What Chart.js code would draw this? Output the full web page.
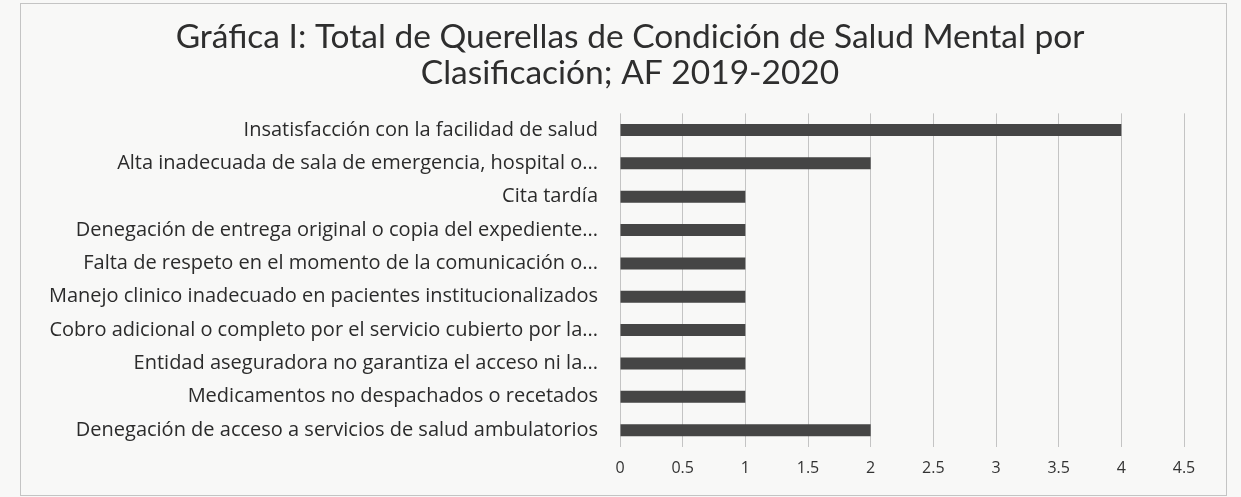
<!DOCTYPE html>
<html>
<head>
<meta charset="utf-8">
<script src="https://cdn.jsdelivr.net/npm/chart.js@4/dist/chart.umd.min.js"></script>
<style>
  html, body { margin: 0; padding: 0; background: #f8f8f7; }
  #wrap { position: relative; width: 1241px; height: 497px; }
  #c { position: absolute; left: 0; top: 0; }
  #frame { position: absolute; left: 20px; top: 3px; width: 1205px; height: 491px; border: 1px solid #c4c4c4; pointer-events: none; }
</style>
</head>
<body>
<div id="wrap">
  <canvas id="c" width="1241" height="497"></canvas>
  <div id="frame"></div>
</div>
<script>
const titleLines = [
  "Gráfica I: Total de Querellas de Condición de Salud Mental por",
  "Clasificación; AF 2019-2020"
];
const categories = [
  "Insatisfacción con la facilidad de salud",
  "Alta inadecuada de sala de emergencia, hospital o...",
  "Cita tardía",
  "Denegación de entrega original o copia del expediente...",
  "Falta de respeto en el momento de la comunicación o...",
  "Manejo clinico inadecuado en pacientes institucionalizados",
  "Cobro adicional o completo por el servicio cubierto por la...",
  "Entidad aseguradora no garantiza el acceso ni la...",
  "Medicamentos no despachados o recetados",
  "Denegación de acceso a servicios de salud ambulatorios"
];
const values = [4, 2, 1, 1, 1, 1, 1, 1, 1, 2];
const xMin = 0, xMax = 4.5, xStep = 0.5;

// let the long category labels extend left of the (shifted) y-axis box without clipping
const unclipLabels = {
  id: 'unclipLabels',
  afterLayout(chart) {
    const y = chart.scales.y;
    y.left = 0;
    y.width = y.right;
  }
};

new Chart(document.getElementById('c'), {
  type: 'bar',
  data: {
    labels: categories,
    datasets: [{
      data: values,
      backgroundColor: '#454545',
      borderWidth: 0,
      barPercentage: 0.36,
      categoryPercentage: 1.0
    }]
  },
  options: {
    indexAxis: 'y',
    responsive: false,
    animation: false,
    devicePixelRatio: 1,
    layout: { padding: { left: 76, right: 57, top: 0, bottom: 7 } },
    plugins: {
      legend: { display: false },
      tooltip: { enabled: false },
      title: {
        display: true,
        text: titleLines,
        color: '#2e2e2e',
        font: { family: 'Lato', size: 33.5, weight: 'normal', lineHeight: 1.05 },
        padding: { top: 20, bottom: 23 }
      }
    },
    scales: {
      x: {
        min: xMin, max: xMax,
        ticks: {
          stepSize: xStep, color: '#333333', font: { family: 'Open Sans', size: 16 }, padding: 12,
          callback: (v) => String(v)
        },
        grid: { color: '#c4c4c4', drawTicks: false, lineWidth: 1 },
        border: { display: false }
      },
      y: {
        afterFit: (s) => { s.width = 544; },
        ticks: { color: '#2b2b2b', font: { family: 'Open Sans', size: 20 }, padding: 22, autoSkip: false },
        grid: { display: false, drawTicks: false },
        border: { display: false }
      }
    }
  },
  plugins: [unclipLabels]
});
</script>
</body>
</html>
